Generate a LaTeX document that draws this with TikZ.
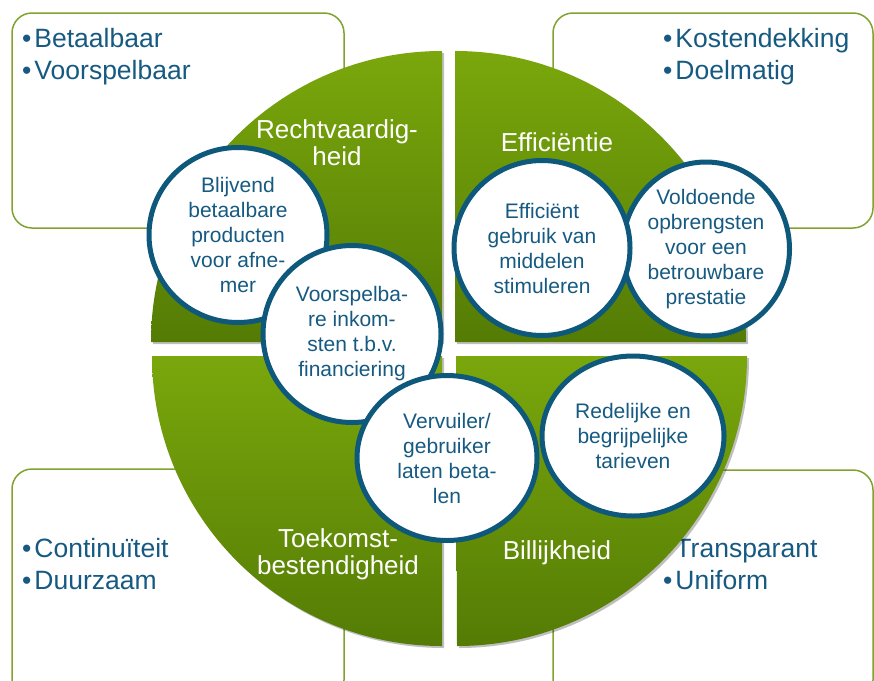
\documentclass[tikz,border=0pt]{standalone}
\usepackage{fontspec}
\setmainfont{Liberation Sans}
\usetikzlibrary{shapes.geometric,shadows}
\definecolor{qlight}{RGB}{122,167,12}
\definecolor{qdark}{RGB}{84,124,5}
\definecolor{boxgreen}{RGB}{128,163,48}
\definecolor{txtblue}{RGB}{22,90,130}
\definecolor{ringblue}{RGB}{14,88,124}
\begin{document}
\begin{tikzpicture}[x=1pt,y=1pt,
  boxframe/.style={draw=boxgreen, line width=1.5pt, rounded corners=20pt},
  quad/.style={top color=qlight, bottom color=qdark,
    drop shadow={shadow xshift=2pt, shadow yshift=-2pt, opacity=0.25, fill=black}},
  bul/.style={anchor=base west, inner sep=0pt, text=txtblue, font=\fontsize{26.5}{32}\selectfont},
  qlabel/.style={text=white, align=center, inner sep=0pt, font=\fontsize{26}{27}\selectfont},
  ring/.style={ellipse, draw=ringblue, line width=5pt, fill=white, text=txtblue,
    align=center, inner sep=0pt, font=\fontsize{21}{25}\selectfont}]
\clip (0,0) rectangle (874,-680);
\fill[white] (0,0) rectangle (874,-680);
% corner boxes
\draw[boxframe] (12,-13) rectangle (344,-228);
\draw[boxframe] (553,-13) rectangle (873,-228);
\draw[boxframe] (12,-469) rectangle (344,-700);
\draw[boxframe] (553,-470) rectangle (873,-700);
% box texts
\node[bul] (b1) at (22,-47) {\textbullet\hspace{3pt}Betaalbaar};
\node[bul] (b2) at (22,-79) {\textbullet\hspace{3pt}Voorspelbaar};
\node[bul] (b3) at (663,-47) {\textbullet\hspace{3pt}Kostendekking};
\node[bul] (b4) at (663,-79) {\textbullet\hspace{3pt}Doelmatig};
\node[bul] (b5) at (22,-557) {\textbullet\hspace{3pt}Continuïteit};
\node[bul] (b6) at (22,-589) {\textbullet\hspace{3pt}Duurzaam};
\node[bul] (b7) at (663,-557) {\textbullet\hspace{3pt}Transparant};
\node[bul] (b8) at (663,-589) {\textbullet\hspace{3pt}Uniform};
% quadrants
\path[quad] (442,-342) -- ++(-291pt,0) arc[start angle=180, end angle=90, radius=291pt] -- cycle;
\path[quad] (455,-342) -- ++(0,291pt) arc[start angle=90, end angle=0, radius=291pt] -- cycle;
\path[quad] (442,-356) -- ++(-290pt,0) arc[start angle=180, end angle=270, radius=290pt] -- cycle;
\path[quad] (456,-356) -- ++(291pt,0) arc[start angle=0, end angle=-90, radius=290pt] -- cycle;
% quadrant labels
\node[qlabel] (q1) at (337,-143) {Rechtvaardig-\\heid};
\node[qlabel] (q2) at (557,-142) {Efficiëntie};
\node[qlabel] (q3) at (338,-554) {Toekomst-\\bestendigheid};
\node[qlabel] (q4) at (557,-553) {Billijkheid};
% circles
\node[ring, minimum width=178pt, minimum height=175pt] (c1) at (238,-235)
  {Blijvend\\betaalbare\\producten\\voor afne-\\mer};
\node[ring, minimum width=178pt, minimum height=177pt] (c2) at (352,-334)
  {Voorspelba-\\re inkom-\\sten t.b.v.\\financiering};
\node[ring, minimum width=180pt, minimum height=165pt] (c3) at (447,-458)
  {Vervuiler/\\gebruiker\\laten beta-\\len};
\node[ring, minimum width=167pt, minimum height=174pt] (c6) at (706,-249)
  {Voldoende\\opbrengsten\\voor een\\betrouwbare\\prestatie};
\node[ring, minimum width=176pt, minimum height=175pt] (c5) at (542,-248)
  {Efficiënt\\gebruik van\\middelen\\stimuleren};
\node[ring, minimum width=182pt, minimum height=160pt] (c4) at (633,-436)
  {Redelijke en\\begrijpelijke\\tarieven};
\end{tikzpicture}
\end{document}
